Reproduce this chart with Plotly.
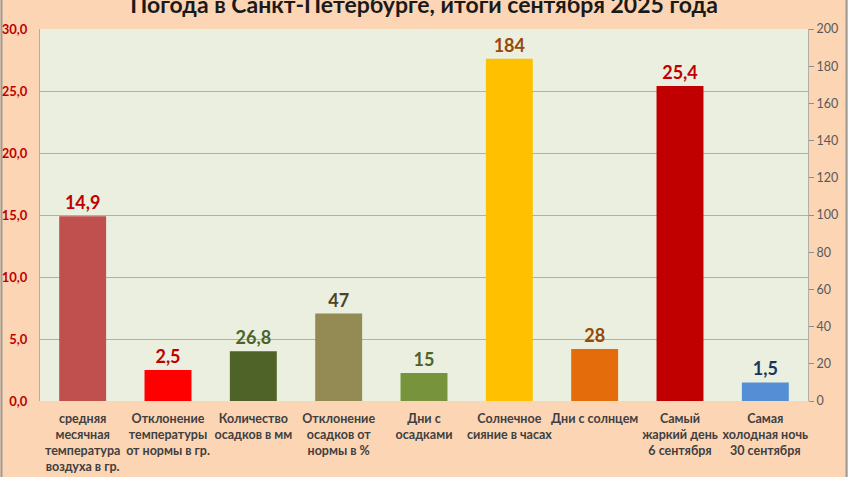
import plotly.graph_objects as go

categories = [
    "средняя<br>месячная<br>температура<br>воздуха в гр.",
    "Отклонение<br>температуры<br>от нормы в гр.",
    "Количество<br>осадков в мм",
    "Отклонение<br>осадков от<br>нормы в %",
    "Дни с<br>осадками",
    "Солнечное<br>сияние в часах",
    "Дни с солнцем",
    "Самый<br>жаркий день<br>6 сентября",
    "Самая<br>холодная ночь<br>30 сентября",
]
values = [14.9, 2.5, 26.8, 47, 15, 184, 28, 25.4, 1.5]
value_labels = ["14,9", "2,5", "26,8", "47", "15", "184", "28", "25,4", "1,5"]
axis_of_bar = ["y", "y", "y2", "y2", "y2", "y2", "y2", "y", "y"]
bar_colors = ["#C0504D", "#FF0000", "#4F6228", "#948A54", "#77933C",
              "#FFC000", "#E46C0A", "#C00000", "#558ED5"]
label_colors = ["#C00000", "#C00000", "#4F6228", "#4A452A", "#4F6228",
                "#984807", "#984807", "#C00000", "#17375E"]

left_ticks = [0, 5, 10, 15, 20, 25, 30]
right_ticks = [0, 20, 40, 60, 80, 100, 120, 140, 160, 180, 200]

FONT = "Lato"
fig = go.Figure()
for ax in ["y", "y2"]:
    ys = [v if a == ax else None for v, a in zip(values, axis_of_bar)]
    txt = [t if a == ax else "" for t, a in zip(value_labels, axis_of_bar)]
    fig.add_trace(go.Bar(
        x=categories, y=ys, yaxis=ax, width=0.55,
        marker=dict(color=bar_colors, line=dict(width=0)),
        text=txt, textposition="outside", cliponaxis=False,
        textfont=dict(color=label_colors, size=18, family=FONT, weight="bold"),
        showlegend=False,
    ))

fig.update_layout(
    width=848, height=477,
    margin=dict(l=40, r=40, t=29, b=76, autoexpand=False),
    paper_bgcolor="#FCD5B5",
    plot_bgcolor="#EBEFDF",
    barmode="overlay",
    separators=", ",
    title=dict(text="<b>Погода в Санкт-Петербурге, итоги сентября 2025 года</b>",
               x=0.5, xanchor="center", y=0.99, yanchor="middle",
               font=dict(size=23, color="#1a1a1a", family=FONT)),
    xaxis=dict(
        range=[-0.5, 8.5], automargin=False,
        showgrid=False, showline=False, ticks="",
        ticklabelstandoff=8,
        tickfont=dict(size=12.5, color="#404040", family=FONT, weight="bold"),
        tickangle=0,
    ),
    yaxis=dict(
        range=[0, 30], tickvals=left_ticks, tickformat=".1f", automargin=False,
        showgrid=True, gridcolor="#B0B0A8", gridwidth=1,
        showline=True, linecolor="#B0B0A8", linewidth=1,
        ticks="", ticklabelstandoff=9,
        tickfont=dict(size=13, color="#C00000", family=FONT, weight="bold"),
        zeroline=False,
    ),
    yaxis2=dict(
        range=[0, 200], tickvals=right_ticks, overlaying="y", side="right",
        automargin=False,
        showgrid=False, showline=True, linecolor="#B0B0A8", linewidth=1,
        ticks="outside", ticklen=5, tickcolor="#8C8C8C",
        tickfont=dict(size=12.5, color="#595959", family=FONT),
        zeroline=False,
    ),
)

# frame lines at left/right edges of the image
for px in [1.5, 846.5]:
    xp = (px - 40) / 768
    fig.add_shape(type="line", xref="paper", yref="paper",
                  x0=xp, x1=xp, y0=-76 / 372 - 0.01, y1=1 + 29 / 372 + 0.01,
                  line=dict(color="#9E9A96", width=2))

fig.write_html("out.html")
